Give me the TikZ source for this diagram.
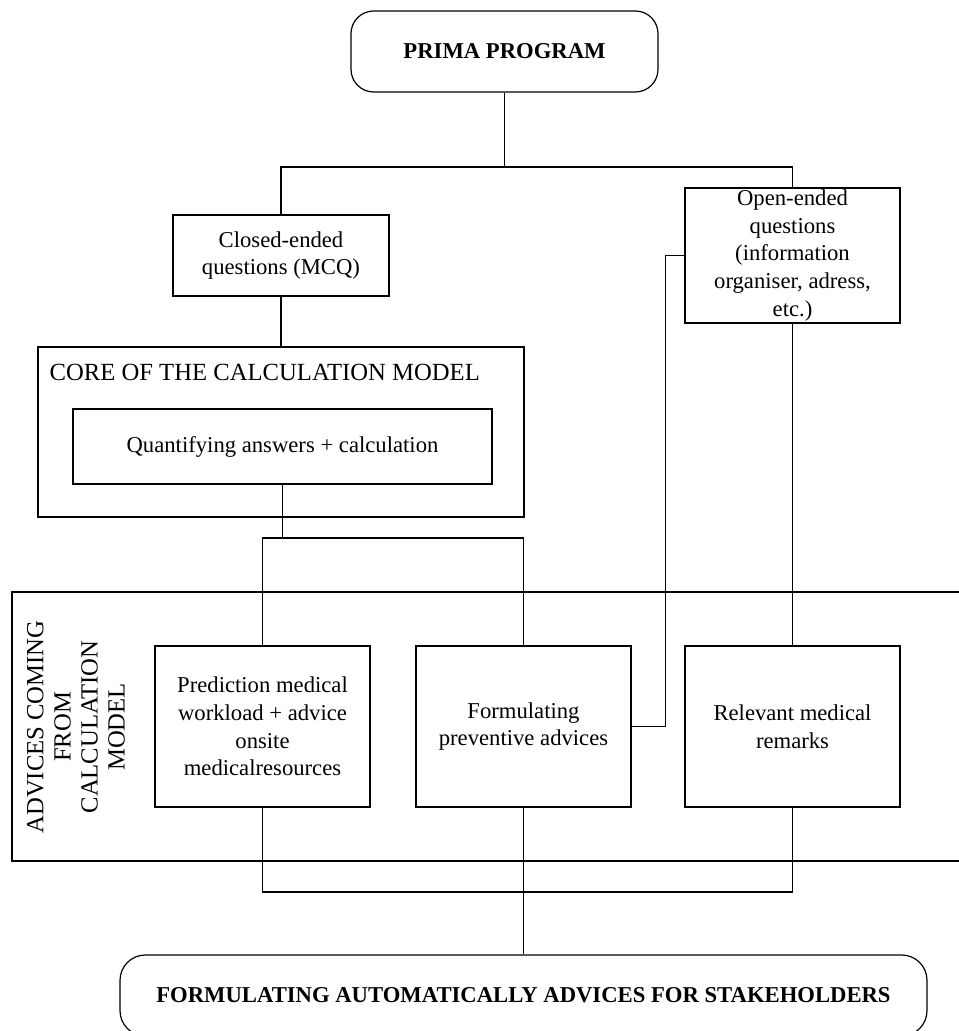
\documentclass[tikz,border=0pt]{standalone}
\usepackage{fontspec}
\setmainfont{Liberation Serif}
\begin{document}
\begin{tikzpicture}[x=0.75pt,y=-0.75pt,line width=0.9pt,
  box/.style={draw,align=center,inner sep=0pt,font=\fontsize{17}{20.8}\selectfont},
  roundbox/.style={box,rounded corners=17pt,font=\fontsize{17}{20.8}\selectfont\bfseries},
  caps/.style={inner sep=0pt,font=\fontsize{18.5}{20.3}\selectfont}]
\useasboundingbox (0,0) rectangle (958,1031);

% frames
\draw (12,592) rectangle (975,861);
\node[draw,minimum width=364.5pt,minimum height=127.5pt] (core) at (281,432) {};
\node[caps,anchor=west] (corelbl) at (49,372) {CORE OF THE CALCULATION MODEL};
\node[caps,rotate=90,align=center] (advlbl) at (76,727) {ADVICES COMING\\FROM\\CALCULATION\\MODEL};

% boxes
\node[roundbox,minimum width=230.25pt,minimum height=60.75pt] (prima) at (504.5,51.5) {PRIMA PROGRAM};
\node[box,minimum width=162pt,minimum height=60.75pt] (closed) at (281,255.5) {Closed-ended\\questions (MCQ)};
\node[box,minimum width=161.25pt,minimum height=101.25pt] (open) at (792.5,255.5) {Open-ended\\questions\\(information\\organiser, adress,\\etc.)};
\node[box,minimum width=314.25pt,minimum height=56.25pt] (quant) at (282.5,446.5) {Quantifying answers + calculation};
\node[box,minimum width=161.25pt,minimum height=120.75pt] (pred) at (262.5,726.5) {Prediction medical\\workload + advice\\onsite\\medicalresources};
\node[box,minimum width=161.25pt,minimum height=120.75pt] (prev) at (523.5,726.5) {Formulating\\preventive advices};
\node[box,minimum width=161.25pt,minimum height=120.75pt] (remarks) at (792.5,726.5) {Relevant medical\\remarks};
\node[roundbox,rounded corners=19pt,minimum width=605.25pt,minimum height=60.75pt] (final) at (523.5,995.5) {FORMULATING AUTOMATICALLY ADVICES FOR STAKEHOLDERS};

% connectors
\coordinate (fork) at (504.5,167);
\coordinate (split) at (282.5,538);
\coordinate (join) at (523.5,892);
\draw (prima.south) -- (fork);
\draw (closed.north) |- (fork) -| (open.north);
\draw (closed.south) -- (core.north);
\draw (quant.south) -- (split);
\draw (pred.north) |- (split) -| (prev.north);
\draw (prev.east) -- ++(34,0) |- (open.west);
\draw (open.south) -- (remarks.north);
\draw (pred.south) |- (join) -| (remarks.south);
\draw (prev.south) -- (final.north);
\end{tikzpicture}
\end{document}
